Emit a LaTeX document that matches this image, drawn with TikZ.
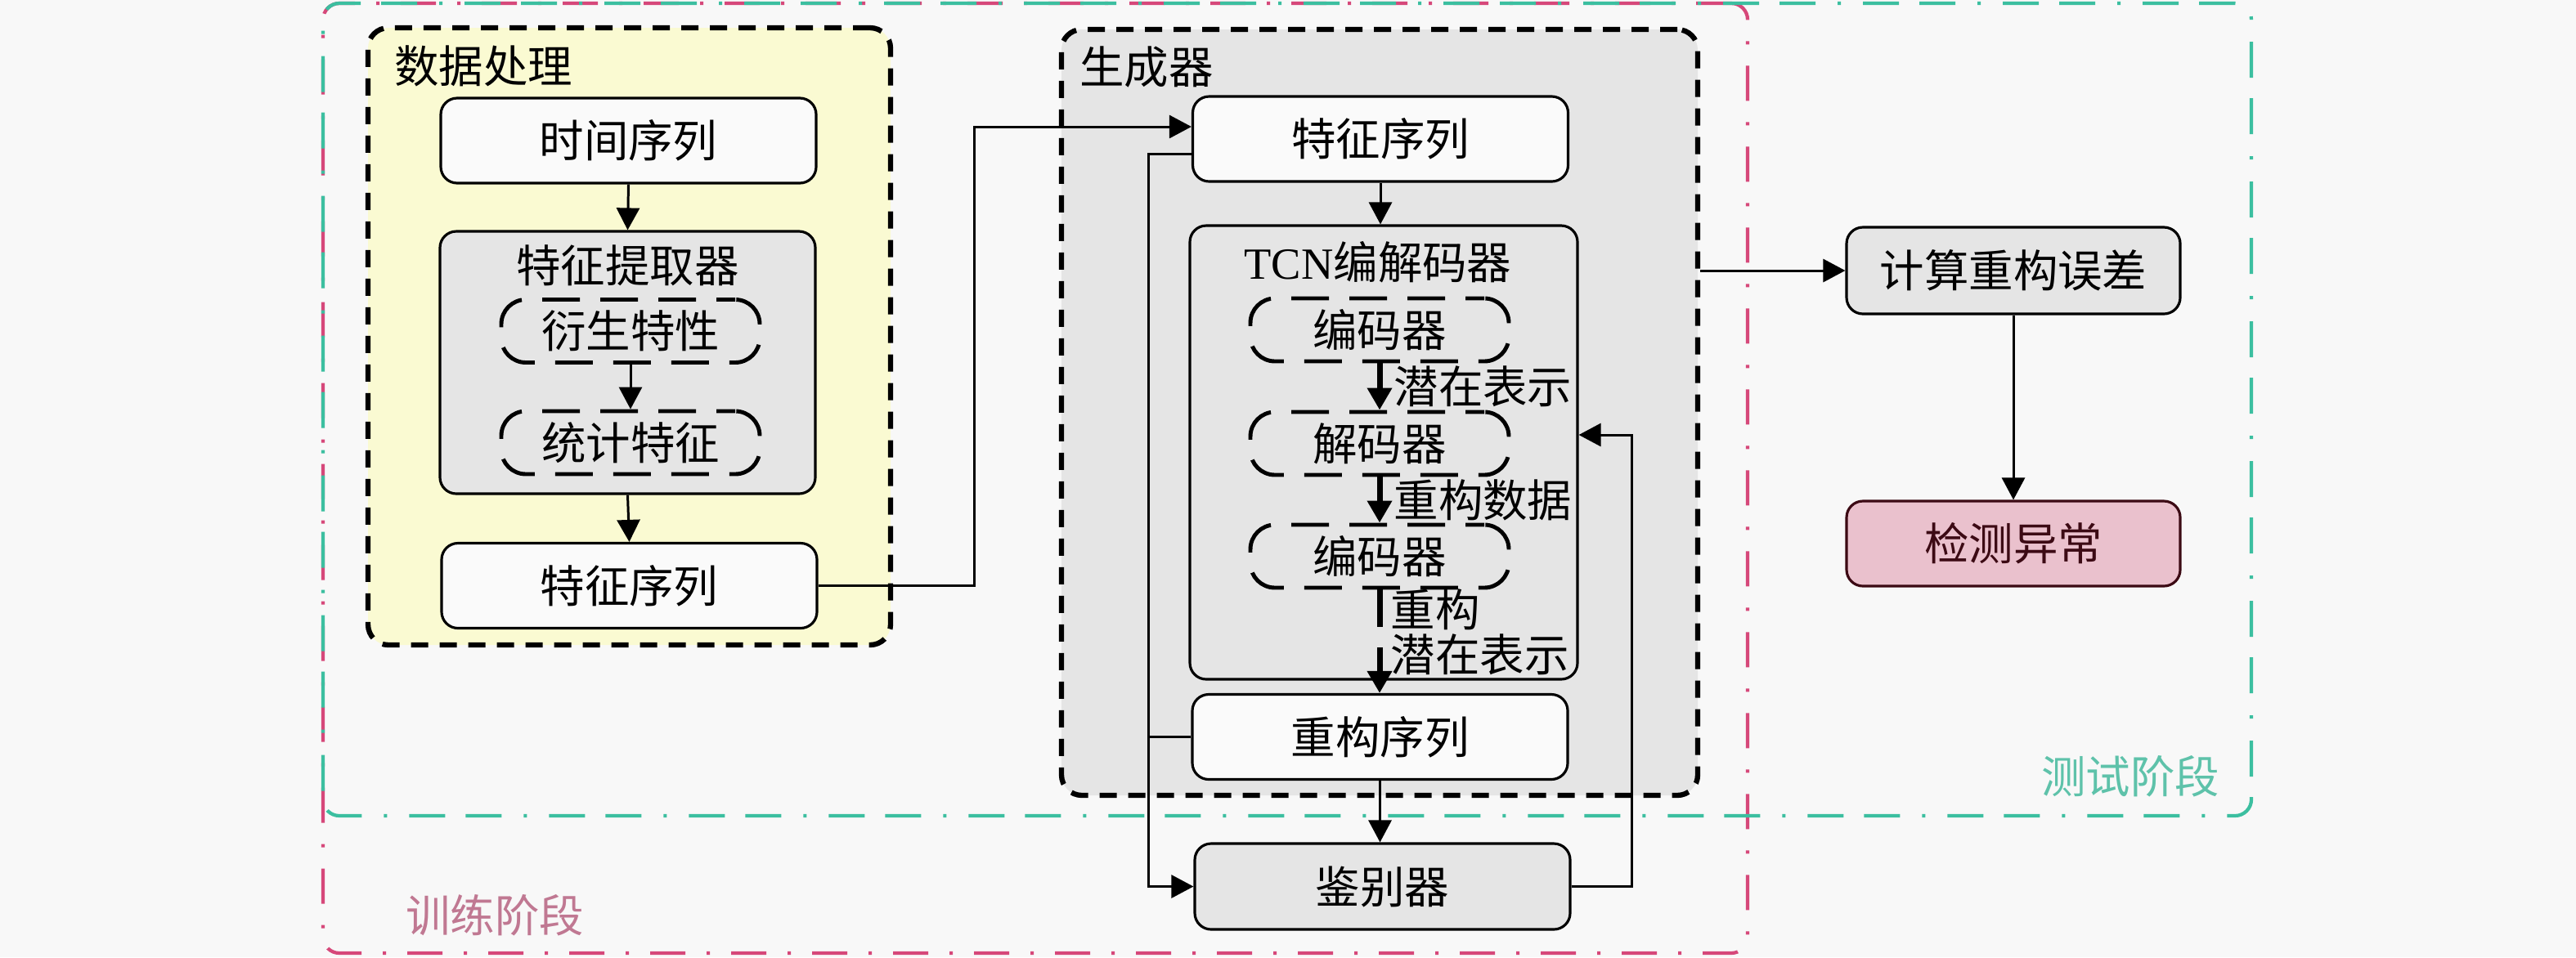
\documentclass[tikz,border=0pt]{standalone}
\usepackage{fontspec}
\setmainfont{Liberation Serif}
\newfontfamily\cjkfont{Noto Sans CJK SC}
\usetikzlibrary{arrows.meta}
\definecolor{bgc}{HTML}{F8F8F8}
\definecolor{wfill}{HTML}{FAFAFA}
\definecolor{gfill}{HTML}{E5E5E5}
\definecolor{yfill}{HTML}{FAFAD2}
\definecolor{pfill}{HTML}{EAC1CD}
\definecolor{pborder}{HTML}{3C0A14}
\definecolor{trainc}{HTML}{D6487A}
\definecolor{testc}{HTML}{3CBFA0}
\definecolor{trainlbl}{HTML}{C07892}
\definecolor{testlbl}{HTML}{5EC2AA}
\begin{document}
\begin{tikzpicture}[
  txt/.style={font={\cjkfont\fontsize{15.5pt}{15.6pt}\selectfont}, inner sep=0pt},
  box/.style={txt, draw=black, line width=0.9pt, rounded corners=0.2cm,
    minimum width=4.59cm, minimum height=1.04cm},
  wbox/.style={box, fill=wfill},
  gbox/.style={box, fill=gfill},
  ibox/.style={txt, draw=black, line width=1.4pt, dash pattern=on 0.46cm off 0.25cm,
    dash phase=0.23cm, rounded corners=0.3cm, minimum width=3.16cm, minimum height=0.77cm},
  grp/.style={draw=black, line width=1.8pt, dash pattern=on 0.21cm off 0.14cm,
    rounded corners=0.25cm, inner sep=0pt},
  arr/.style={line width=0.85pt, -{Triangle[length=0.27cm,width=0.28cm]}},
  tarr/.style={line width=2pt, dash pattern=on 0.46cm off 0.25cm,
    -{Triangle[length=0.27cm,width=0.29cm]}},
  ln/.style={line width=0.85pt}
]
\fill[bgc] (0,0) rectangle (31.5,-11.71);
\useasboundingbox (0,0) rectangle (31.5,-11.71);

% phase frames
\node[draw=trainc, line width=1.2pt, rounded corners=0.2cm, inner sep=0pt,
  dash pattern=on 0.43cm off 0.26cm on 0.04cm off 0.26cm,
  minimum width=17.42cm, minimum height=11.62cm] (train) at (12.66,-5.85) {};
\node[draw=testc, line width=1.2pt, rounded corners=0.2cm, inner sep=0pt,
  dash pattern=on 0.44cm off 0.25cm on 0.44cm off 0.27cm on 0.04cm off 0.27cm,
  minimum width=23.58cm, minimum height=9.94cm] (test) at (15.74,-5.01) {};
\node[txt, text=trainlbl] (trainl) at (6.05,-11.20) {训练阶段};
\node[txt, text=testlbl] (testl) at (26.05,-9.50) {测试阶段};

% data processing group
\node[grp, fill=yfill, minimum width=6.39cm, minimum height=7.55cm] (dp) at (7.695,-4.115) {};
\node[txt] (dpl) at (5.91,-0.81) {数据处理};
\node[wbox] (ts) at (7.685,-1.72) {时间序列};
\node[gbox, minimum height=3.21cm] (fe) at (7.675,-4.435) {};
\node[txt] (fel) at (7.675,-3.25) {特征提取器};
\node[ibox] (ys) at (7.71,-4.05) {衍生特性};
\node[ibox] (tj) at (7.71,-5.415) {统计特征};
\node[wbox] (fs1) at (7.695,-7.165) {特征序列};

% generator group
\node[grp, fill=gfill, minimum width=7.78cm, minimum height=9.37cm] (gen) at (16.87,-5.045) {};
\node[txt] (genl) at (14.02,-0.82) {生成器};
\node[wbox] (fs2) at (16.88,-1.70) {特征序列};
\node[gbox, minimum width=4.74cm, minimum height=5.55cm] (tcn) at (16.92,-5.535) {};
\node[txt] (tcnl) at (16.85,-3.21) {{\rmfamily TCN}编解码器};
\node[ibox] (enc1) at (16.87,-4.035) {编码器};
\node[ibox] (dec) at (16.87,-5.425) {解码器};
\node[ibox] (enc2) at (16.87,-6.805) {编码器};
\node[wbox] (rs) at (16.875,-9.015) {重构序列};
\node[gbox, minimum height=1.05cm] (disc) at (16.905,-10.845) {鉴别器};

% test side
\node[gbox, minimum width=4.08cm, minimum height=1.06cm] (calc) at (24.62,-3.31) {计算重构误差};
\node[box, draw=pborder, text=pborder, fill=pfill, minimum width=4.08cm] (det) at (24.62,-6.65) {检测异常};

% connectors
\draw[arr] (ts.south) -- (fe.north);
\draw[arr] (ys.south) -- (tj.north);
\draw[arr] (fe.south) -- (fs1.north);
\coordinate (jx) at (11.91,0);
\draw[arr] (fs1.east) -- (fs1.east -| jx) |- ([yshift=0.15cm]fs2.west);
\draw[arr] (fs2.south) -- (fs2.south |- tcn.north);

\draw[tarr] (enc1.south) -- (dec.north) node[midway, right=0.14cm, txt] (l1) {潜在表示};
\draw[tarr] (dec.south) -- (enc2.north) node[midway, right=0.14cm, txt] (l2) {重构数据};
\draw[tarr] (enc2.south) -- (enc2.south |- rs.north);
\node[txt, anchor=west, align=left] (l3) at (17.00,-7.735) {重构\\潜在表示};

\coordinate (bus) at (14.04,0);
\draw[arr] ([yshift=-0.18cm]fs2.west) -| (bus |- disc.west) -- (disc.west);
\draw[ln] (rs.west) -- (rs.west -| bus);
\draw[arr] (rs.south) -- (rs.south |- disc.north);

\coordinate (fb) at (19.95,-5.32);
\draw[arr] (disc.east) -| (fb) -- (fb -| tcn.east);

\draw[arr] (calc.west -| gen.east) -- (calc.west);
\draw[arr] (calc.south) -- (det.north);
\end{tikzpicture}
\end{document}
